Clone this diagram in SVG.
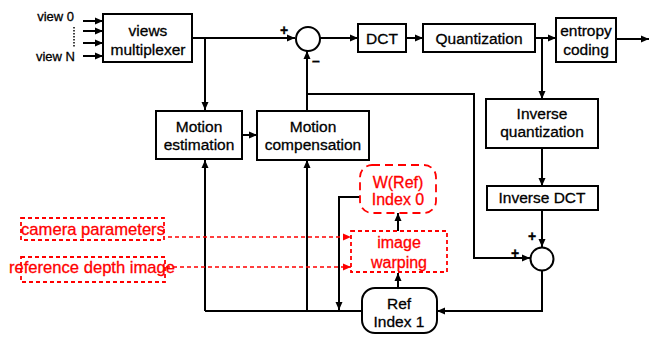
<svg xmlns="http://www.w3.org/2000/svg" width="650" height="339" viewBox="0 0 650 339">
<defs>
<marker id="ar" viewBox="0 0 8 8" refX="8" refY="4" markerWidth="8" markerHeight="8" markerUnits="userSpaceOnUse" orient="auto">
<path d="M0,0.5 L8,4 L0,7.5 Z" fill="#000"/>
</marker>
<marker id="arr" viewBox="0 0 8 8" refX="8" refY="4" markerWidth="8" markerHeight="8" markerUnits="userSpaceOnUse" orient="auto">
<path d="M0,0.5 L8,4 L0,7.5 Z" fill="#f00"/>
</marker>
<style>
text{font-family:"Liberation Sans",Arial,sans-serif;font-size:15.5px;text-anchor:middle;fill:#000;stroke:#000;stroke-width:0.3}
.box{fill:#fff;stroke:#000;stroke-width:2}
.ln{fill:none;stroke:#000;stroke-width:2}
.rbox{fill:none;stroke:#f00;stroke-width:1.8;stroke-dasharray:4,3}
.rln{fill:none;stroke:#f00;stroke-width:1.6;stroke-dasharray:4,3}
text.rt{fill:#f00;stroke:#f00;font-size:16px}
text.rl{font-size:16.6px}
text.sign{font-size:14px;font-weight:bold}
text.vw{font-size:13px;text-anchor:end}
</style>
</defs>
<rect width="650" height="339" fill="#fff"/>

<g id="connectors">
<line class="ln" x1="83" y1="21" x2="103" y2="21" marker-end="url(#ar)"/>
<line class="ln" x1="83" y1="31" x2="103" y2="31" marker-end="url(#ar)"/>
<line class="ln" x1="83" y1="43" x2="103" y2="43" marker-end="url(#ar)"/>
<line class="ln" x1="83" y1="56" x2="103" y2="56" marker-end="url(#ar)"/>
<line x1="74" y1="27" x2="74" y2="47" stroke="#000" stroke-width="1.5" stroke-dasharray="1.5,1.5"/>
<line class="ln" x1="192" y1="38" x2="295" y2="38" marker-end="url(#ar)"/>
<line class="ln" x1="205" y1="38" x2="205" y2="110" marker-end="url(#ar)"/>
<line class="ln" x1="320" y1="38" x2="358" y2="38" marker-end="url(#ar)"/>
<line class="ln" x1="406" y1="38" x2="423" y2="38" marker-end="url(#ar)"/>
<line class="ln" x1="535" y1="38" x2="556" y2="38" marker-end="url(#ar)"/>
<line class="ln" x1="616" y1="39" x2="649" y2="39" marker-end="url(#ar)"/>
<line class="ln" x1="542" y1="38" x2="542" y2="99" marker-end="url(#ar)"/>
<line class="ln" x1="542" y1="148" x2="542" y2="186" marker-end="url(#ar)"/>
<line class="ln" x1="542" y1="210" x2="542" y2="247" marker-end="url(#ar)"/>
<line class="ln" x1="242" y1="135" x2="257" y2="135" marker-end="url(#ar)"/>
<line class="ln" x1="307" y1="111" x2="307" y2="51" marker-end="url(#ar)"/>
<polyline class="ln" points="307,94 474,94 474,258 530,258" marker-end="url(#ar)"/>
<polyline class="ln" points="542,271 542,311 437,311" marker-end="url(#ar)"/>
<line class="ln" x1="205" y1="311" x2="362" y2="311"/>
<line class="ln" x1="205" y1="311" x2="205" y2="160" marker-end="url(#ar)"/>
<line class="ln" x1="307" y1="311" x2="307" y2="160" marker-end="url(#ar)"/>
<polyline class="ln" points="360,197 339,197 339,310" marker-end="url(#ar)"/>
<line class="ln" x1="398" y1="288" x2="398" y2="273" marker-end="url(#ar)"/>
<line class="ln" x1="398" y1="231" x2="398" y2="213" marker-end="url(#ar)"/>
<line class="rln" x1="168" y1="237" x2="351" y2="237" marker-end="url(#arr)"/>
<line class="rln" x1="166" y1="267" x2="351" y2="267" marker-end="url(#arr)"/>
</g>

<g id="views">
<text class="vw" x="74" y="21">view 0</text>
<text class="vw" x="75" y="61">view N</text>
</g>

<g id="mux">
<rect class="box" x="103" y="14" width="89" height="48"/>
<text x="148" y="36">views</text>
<text x="148" y="55">multiplexer</text>
</g>

<g id="adder1">
<circle cx="308" cy="39" r="12" fill="#fff" stroke="#000" stroke-width="2"/>
<text class="sign" x="284" y="35">+</text>
<text class="sign" x="316" y="66">–</text>
</g>

<g id="dct">
<rect class="box" x="358" y="24" width="48" height="28"/>
<text x="382" y="44">DCT</text>
</g>

<g id="quant">
<rect class="box" x="423" y="24" width="112" height="28"/>
<text x="479" y="44">Quantization</text>
</g>

<g id="entropy">
<rect class="box" x="556" y="18" width="60" height="44"/>
<text x="586" y="36">entropy</text>
<text x="586" y="55">coding</text>
</g>

<g id="me">
<rect class="box" x="156" y="111" width="86" height="48"/>
<text x="199" y="132">Motion</text>
<text x="199" y="150">estimation</text>
</g>

<g id="mc">
<rect class="box" x="257" y="111" width="112" height="49"/>
<text x="313" y="132">Motion</text>
<text x="313" y="150">compensation</text>
</g>

<g id="iquant">
<rect class="box" x="486" y="99" width="112" height="49"/>
<text x="542" y="119">Inverse</text>
<text x="542" y="137">quantization</text>
</g>

<g id="idct">
<rect class="box" x="487" y="186" width="111" height="24"/>
<text x="542" y="203">Inverse DCT</text>
</g>

<g id="adder2">
<circle cx="542" cy="259" r="11.5" fill="#fff" stroke="#000" stroke-width="2"/>
<text class="sign" x="532" y="241">+</text>
<text class="sign" x="515" y="258">+</text>
</g>

<g id="ref">
<rect class="box" x="362" y="288" width="75" height="45" rx="13"/>
<text x="399" y="309">Ref</text>
<text x="399" y="327">Index 1</text>
</g>

<g id="wref">
<rect x="360" y="165" width="76" height="48" rx="12" fill="none" stroke="#f00" stroke-width="1.8" stroke-dasharray="8,5"/>
<text class="rt" x="398" y="188">W(Ref)</text>
<text class="rt" x="398" y="205">Index 0</text>
</g>

<g id="warping">
<rect class="rbox" x="351" y="231" width="96" height="41"/>
<text class="rt" x="399" y="248">image</text>
<text class="rt" x="399" y="268">warping</text>
</g>

<g id="camera">
<rect class="rbox" x="21" y="218" width="143" height="22"/>
<text class="rt rl" x="93" y="235">camera parameters</text>
</g>

<g id="depth">
<rect class="rbox" x="21" y="257" width="144" height="25"/>
<text class="rt rl" x="92" y="273">reference depth image</text>
</g>
</svg>
